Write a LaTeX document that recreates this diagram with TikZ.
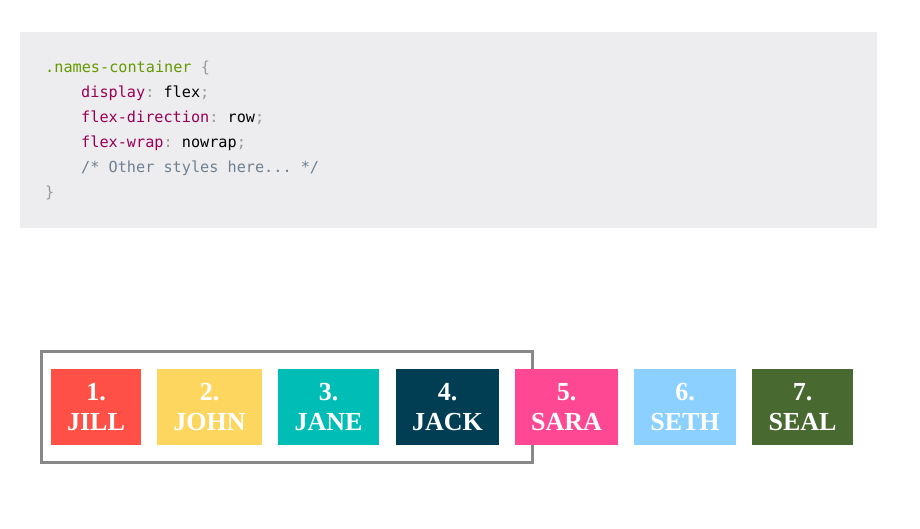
\documentclass[tikz,border=0pt]{standalone}
\usepackage{fontspec}
\setmainfont{Liberation Serif}
\newfontfamily\codefont{DejaVu Sans Mono}
\definecolor{codebg}{RGB}{237,237,240}
\definecolor{csel}{RGB}{102,153,0}
\definecolor{cprop}{RGB}{153,0,85}
\definecolor{cpunct}{RGB}{153,153,153}
\definecolor{ccomm}{RGB}{112,128,144}
\definecolor{frame}{RGB}{136,136,136}
\definecolor{jill}{RGB}{255,80,71}
\definecolor{john}{RGB}{253,214,96}
\definecolor{jane}{RGB}{0,189,181}
\definecolor{jack}{RGB}{2,62,83}
\definecolor{sara}{RGB}{255,72,147}
\definecolor{seth}{RGB}{140,208,255}
\definecolor{seal}{RGB}{72,106,49}
\tikzset{
  codeline/.style={anchor=base west, inner sep=0pt, font=\codefont\fontsize{15.2}{18}\selectfont\frenchspacing},
  namebox/.style={inner sep=0pt, minimum height=76pt, text=white, align=center,
    font=\fontsize{26}{30}\selectfont\bfseries},
}
\newcommand{\pu}[1]{\textcolor{cpunct}{#1}}
\newcommand{\pr}[1]{\textcolor{cprop}{#1}}
\begin{document}
\begin{tikzpicture}[x=1pt,y=-1pt]
\useasboundingbox (0,0) rectangle (920,529);
\fill[codebg] (20,32) rectangle (877,228);
\node[codeline] (l1) at (45,73) {\textcolor{csel}{.names-container}\ \pu{\{}};
\node[codeline] (l2) at (81,98) {\pr{display}\pu{:}\ flex\pu{;}};
\node[codeline] (l3) at (81,123) {\pr{flex-direction}\pu{:}\ row\pu{;}};
\node[codeline] (l4) at (81,148) {\pr{flex-wrap}\pu{:}\ nowrap\pu{;}};
\node[codeline] (l5) at (81,173) {\textcolor{ccomm}{/* Other styles here... */}};
\node[codeline] (l6) at (45,198) {\pu{\}}};
\node[draw=frame, line width=3pt, inner sep=0pt, minimum width=491pt, minimum height=111pt] (cont) at (286.5,406.5) {};
\node[namebox, fill=jill, minimum width=90pt]  (n1) at (96,407)  {1.\\JILL};
\node[namebox, fill=john, minimum width=105pt] (n2) at (209.5,407) {2.\\JOHN};
\node[namebox, fill=jane, minimum width=101pt] (n3) at (328.5,407) {3.\\JANE};
\node[namebox, fill=jack, minimum width=103pt] (n4) at (447.5,407) {4.\\JACK};
\node[namebox, fill=sara, minimum width=103pt] (n5) at (566.5,407) {5.\\SARA};
\node[namebox, fill=seth, minimum width=102pt] (n6) at (685,407) {6.\\SETH};
\node[namebox, fill=seal, minimum width=101pt] (n7) at (802.5,407) {7.\\SEAL};
\end{tikzpicture}
\end{document}
